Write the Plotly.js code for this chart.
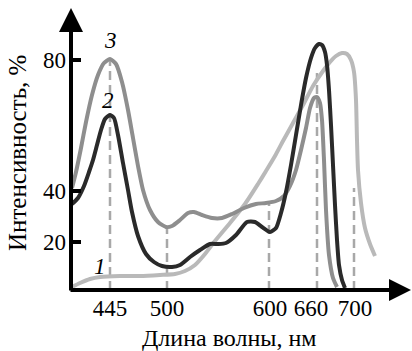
<!DOCTYPE html>
<html>
<head>
<meta charset="utf-8">
<script src="https://cdn.plot.ly/plotly-3.0.1.min.js"></script>
<style>html,body{margin:0;padding:0;background:#fff;}#chart{width:412px;height:351px;}</style>
</head>
<body>
<div id="chart"></div>
<script>
// Axis positions follow the (schematic, non-uniform) scale of the original figure.
const xTickPos  = [445, 502, 605, 646, 690];
const xTickText = ['445', '500', '600', '660', '700'];
const yTickPos  = [19.2, 39.6, 92];
const yTickText = ['20', '40', '80'];

// Curve 1 (light grey)
const x1 = [407,415,425,435,455,475,495,510,520,530,540,550,565,580,593,601,610,618,628,638,648,658,665,671,677,682,686,689,691,692,693,696,700,705,710];
const y1 = [1.2,2.8,4.4,5.2,5.6,5.6,6,6.4,7.6,10,14.4,19.6,26.8,34.4,42.4,47.6,53.6,59.6,66.8,74,81.6,87.6,91.2,93.6,94.8,94.4,92,87.2,76,60,48,34.8,24.8,18.4,13.6];

// Curve 2 (dark)
const x2 = [407,413,419,424,428,432,436,440,445,449,453,458,463,467,473,481,489,497,507,515,525,535,545,553,561,571,582,590,597,605,611,616,621,626,631,636,641,646,650,654,657,660,662,664,666,668,670,672,674,677,680];
const y2 = [34.4,36.8,41.6,47.2,52,58,64,68.4,70,68.8,62,50.8,40,31.2,21.6,14.4,11.2,9.6,9.2,10,13.2,16,18.4,18.4,18.8,22,27.2,27.2,25.2,23.2,24.8,30.8,39.2,50,62,74,84.8,92.8,96.8,98.4,98,95.2,90,80,66,50,34,20,10,4,0.8];

// Curve 3 (medium grey)
const x3 = [407,411,416,421,427,433,439,445,451,457,463,468,473,478,485,493,501,507,515,523,529,537,547,557,567,579,591,601,611,619,625,631,636,641,645,649,652,655,657,659,661,664,668,672];
const y3 = [40.8,47.2,56.8,67.2,78,86,90.8,92.4,90.4,83.2,72,60.8,49.6,40,32,27.2,25.2,25.6,28,30.8,31.2,30,28.8,28.8,30.4,32.8,34.4,34.8,35.6,37.6,41.6,48,56,64.8,72.8,76.8,77.2,74.8,68,52,32,14,4.8,1.2];

// Vertical drop lines (dashed)
const dropX   = [445, 502, 604, 652, 689];
const dropTop = [92.4, 25.2, 34.8, 86.8, 40.8];

const curveLabels = ['1', '2', '3'];
const labelX = [435, 443, 445];
const labelY = [9.6, 76, 100];

const serif = 'Liberation Serif';

const traces = [
  {x: x1, y: y1, mode: 'lines', line: {color: '#b9b9b9', width: 4, shape: 'spline', smoothing: 0.6}, hoverinfo: 'skip'},
  {x: x3, y: y3, mode: 'lines', line: {color: '#8e8e8e', width: 4, shape: 'spline', smoothing: 0.6}, hoverinfo: 'skip'},
  {x: x2, y: y2, mode: 'lines', line: {color: '#2a2a2a', width: 4, shape: 'spline', smoothing: 0.6}, hoverinfo: 'skip'}
];

const shapes = dropX.map((xv, i) => ({
  type: 'line', xref: 'x', yref: 'y', x0: xv, x1: xv, y0: 0, y1: dropTop[i],
  layer: 'below', line: {color: '#a8a8a8', width: 2.5, dash: '9px,5px'}
}));

const annotations = [
  {xref: 'paper', yref: 'paper', x: 0, y: 1, ax: 0, ay: 284, axref: 'pixel', ayref: 'pixel',
   showarrow: true, arrowhead: 2, arrowsize: 1.2, arrowwidth: 4, arrowcolor: '#000', text: ''},
  {xref: 'paper', yref: 'paper', x: (412 - 71) / 339, y: 0, ax: -343, ay: 0,
   showarrow: true, arrowhead: 2, arrowsize: 1.1, arrowwidth: 4, arrowcolor: '#000', text: ''},
  {xref: 'paper', yref: 'paper', x: (229.5 - 71) / 339, y: (290 - 338) / 282, xanchor: 'center', yanchor: 'middle',
   showarrow: false, text: 'Длина волны, нм', font: {family: serif, size: 24, color: '#000'}},
  {xref: 'paper', yref: 'paper', x: (17 - 71) / 339, y: (290 - 153) / 282, xanchor: 'center', yanchor: 'middle',
   showarrow: false, textangle: -90, text: 'Интенсивность, %', font: {family: serif, size: 25, color: '#000'}}
];
curveLabels.forEach((t, i) => annotations.push({
  xref: 'x', yref: 'y', x: labelX[i], y: labelY[i], showarrow: false,
  text: '<i>' + t + '</i>', font: {family: serif, size: 23, color: '#000'}
}));

const layout = {
  width: 412, height: 351,
  font: {family: serif, color: '#000'},
  margin: {l: 71, r: 2, t: 8, b: 61, pad: 0},
  paper_bgcolor: '#fff', plot_bgcolor: '#fff',
  showlegend: false,
  xaxis: {range: [406, 745], showgrid: false, zeroline: false, showline: false,
          tickmode: 'array', tickvals: xTickPos, ticktext: xTickText, ticks: '',
          tickfont: {family: serif, size: 23, color: '#000'}, ticklabelstandoff: 2, fixedrange: true},
  yaxis: {range: [0, 112.8], showgrid: false, zeroline: false, showline: false,
          tickmode: 'array', tickvals: yTickPos, ticktext: yTickText, ticks: 'inside',
          ticklen: 10, tickwidth: 4, tickcolor: '#000',
          tickfont: {family: serif, size: 23, color: '#000'}, ticklabelstandoff: 4, fixedrange: true},
  shapes: shapes,
  annotations: annotations
};

Plotly.newPlot('chart', traces, layout, {displayModeBar: false, staticPlot: true});
</script>
</body>
</html>
